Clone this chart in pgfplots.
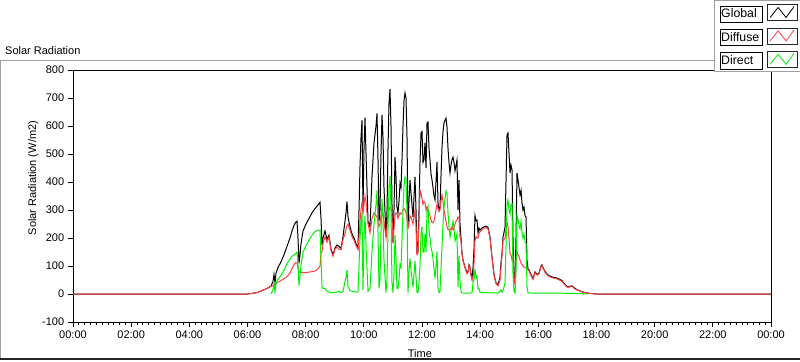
\documentclass[border=0pt]{standalone}
\usepackage{fontspec}
\setmainfont{Liberation Sans}
\usepackage{pgfplots}
\usepackage{pgfplotstable}
\pgfplotsset{compat=1.18}

\definecolor{lvred}{RGB}{255,64,64}
\definecolor{lvgreen}{RGB}{0,240,0}
\definecolor{framegray}{RGB}{160,160,160}

\newcommand{\lgtext}[1]{{\setlength{\fboxsep}{0pt}\setlength{\fboxrule}{0.8bp}\framebox[43bp][l]{\rule[-4bp]{0pt}{15.5bp}\hspace{1.5bp}#1}}}

\pgfplotstableread{
t G D B
0.000 0 0 nan
5.983 0 0 nan
6.155 2 2 nan
6.361 6 6 nan
6.567 15 15 nan
6.705 22 22 nan
6.808 28 27 1
6.877 45 30 15
6.911 70 32 38
6.946 40 33 7
6.980 75 35 40
7.049 95 42 53
7.152 115 48 67
7.255 140 55 85
7.358 170 62 108
7.461 200 75 125
7.530 225 90 135
7.599 245 105 140
7.668 258 112 146
7.702 260 110 150
7.736 200 95 105
7.771 110 80 30
7.805 140 78 62
7.840 180 77 103
7.908 225 76 149
8.011 250 77 173
8.115 270 78 192
8.218 290 80 210
8.321 305 82 223
8.424 318 90 228
8.493 328 100 228
8.527 270 150 120
8.562 175 150 25
8.596 200 180 20
8.665 225 205 20
8.734 195 185 10
8.802 210 203 7
8.871 160 155 5
8.940 140 135 5
9.009 165 160 5
9.077 175 168 7
9.146 170 160 10
9.215 163 158 5
9.284 205 195 10
9.352 260 215 45
9.387 290 230 60
9.421 330 244 86
9.456 275 250 25
9.524 240 228 12
9.593 215 205 10
9.662 200 192 8
9.731 180 173 7
9.799 165 158 7
9.834 300 200 100
9.868 455 260 195
9.903 560 300 260
9.937 620 330 290
9.971 300 285 15
10.006 520 320 200
10.040 630 350 280
10.075 500 330 170
10.143 260 250 10
10.212 240 218 22
10.281 420 270 150
10.350 540 290 250
10.418 600 280 320
10.453 645 275 370
10.487 480 260 220
10.522 260 240 20
10.556 300 250 50
10.590 500 280 220
10.625 640 300 340
10.659 560 290 270
10.693 380 260 120
10.762 205 200 5
10.797 300 240 60
10.831 520 290 230
10.865 680 300 380
10.900 732 310 422
10.934 600 300 300
10.968 320 280 40
11.003 185 180 5
11.037 300 230 70
11.072 490 280 210
11.106 420 290 130
11.140 310 289 21
11.175 290 270 20
11.209 330 280 50
11.244 395 290 105
11.278 380 285 95
11.312 480 290 190
11.347 600 300 300
11.381 690 305 385
11.415 718 300 418
11.450 700 290 410
11.484 560 270 290
11.519 240 235 5
11.553 330 250 80
11.587 407 280 127
11.622 360 275 85
11.691 275 250 25
11.759 418 300 118
11.794 300 240 60
11.828 146 140 6
11.862 150 145 5
11.897 300 260 40
11.931 470 371 99
11.966 575 360 215
12.000 580 340 240
12.034 470 320 150
12.069 480 330 150
12.103 540 325 215
12.138 450 300 150
12.172 610 310 300
12.206 614 300 314
12.241 520 290 230
12.275 479 280 199
12.309 430 265 165
12.344 407 255 152
12.378 380 254 126
12.413 350 260 90
12.447 336 280 56
12.481 400 300 100
12.516 471 320 151
12.550 325 305 20
12.585 300 295 5
12.619 310 300 10
12.653 420 330 90
12.688 525 354 171
12.722 580 330 250
12.756 610 300 310
12.791 621 280 341
12.825 628 260 368
12.860 596 240 356
12.894 520 230 290
12.928 470 230 240
12.963 432 229 203
12.997 460 235 225
13.032 480 240 240
13.066 489 229 260
13.100 470 235 235
13.135 440 250 190
13.169 460 260 200
13.203 479 264 215
13.238 300 275 25
13.272 407 270 137
13.307 250 204 46
13.341 200 190 10
13.375 146 143 3
13.410 121 118 3
13.479 96 93 3
13.547 75 72 3
13.582 80 77 3
13.616 104 100 4
13.650 96 93 3
13.685 70 66 4
13.719 55 50 5
13.754 95 55 40
13.788 160 110 50
13.822 280 190 90
13.857 262 205 57
13.891 264 200 64
13.926 218 200 18
13.960 235 215 20
13.994 228 222 6
14.063 236 230 6
14.132 240 235 5
14.201 242 237 5
14.269 238 233 5
14.338 204 200 4
14.407 132 128 4
14.476 70 66 4
14.544 40 37 3
14.613 32 29 3
14.682 60 50 10
14.716 110 95 15
14.751 146 140 6
14.785 204 190 14
14.820 220 195 25
14.854 240 200 40
14.888 400 230 170
14.923 568 254 314
14.957 575 240 335
14.991 504 200 304
15.026 432 146 286
15.060 460 140 320
15.095 443 121 322
15.129 200 130 70
15.163 60 50 10
15.198 39 35 4
15.232 200 120 80
15.266 432 150 282
15.301 407 140 267
15.335 380 135 245
15.370 354 121 233
15.404 370 110 260
15.438 325 105 220
15.473 300 100 200
15.507 310 96 214
15.542 280 94 186
15.576 275 93 182
15.610 121 93 28
15.645 90 86 4
15.679 86 82 4
15.748 70 66 4
15.817 55 52 3
15.885 79 76 3
15.954 70 67 3
16.023 75 72 3
16.092 100 97 3
16.126 104 101 3
16.160 95 92 3
16.229 80 77 3
16.332 68 65 3
16.470 61 58 3
16.642 57 54 3
16.814 48 45 3
16.883 38 35 3
16.951 30 28 2
17.020 25 23 2
17.089 28 26 2
17.158 29 27 2
17.261 20 18 2
17.364 14 13 1
17.536 7 6 1
17.708 3 3 0
17.880 1 1 nan
18.017 0 0 nan
24.000 0 0 nan
}\solar

\begin{document}
\fontsize{11bp}{13bp}\selectfont
\begin{tikzpicture}[x=1bp,y=1bp]
\path[use as bounding box] (0,0) rectangle (800,361);
\draw[framegray, line width=1bp] (0.5,2) -- (0.5,300.5) -- (717,300.5);
\draw[black!85, line width=2bp] (0,2) -- (800,2);
\node[anchor=base west, inner sep=0pt] at (5,307) {Solar Radiation};
\begin{axis}[
  at={(73bp,39bp)}, anchor=south west,
  width=698bp, height=252bp, scale only axis,
  xmin=0, xmax=24, ymin=-100, ymax=800,
  xtick={0,2,...,24},
  xticklabels={00:00,02:00,04:00,06:00,08:00,10:00,12:00,14:00,16:00,18:00,20:00,22:00,00:00},
  minor x tick num=9,
  ytick={-100,0,...,800},
  yticklabels={-100,0,100,200,300,400,500,600,700,800},
  tick align=outside,
  xtick pos=bottom, ytick pos=left,
  major tick length=5bp, minor tick length=3bp,
  every tick/.style={black, line width=0.8bp},
  axis line style={black, line width=1bp},
  xlabel={Time}, ylabel={Solar Radiation (W/m2)},
  xlabel style={at={(axis description cs:0.497,-0.127)}, anchor=center},
  ylabel style={at={(axis description cs:-0.057,0.571)}, anchor=center},
  unbounded coords=jump,
  legend plot pos=right,
  legend cell align=left,
  legend style={at={(1,1)}, anchor=north east, xshift=30bp, yshift=70bp,
    draw=framegray, line width=1bp, fill=white, inner sep=3bp,
    row sep=5.5bp, column sep=2bp,
    font=\fontsize{12.3bp}{14bp}\selectfont},
  legend image code/.code={
    \draw[draw=black!85, line width=0.8bp, fill=white, solid] (0bp,-8bp) rectangle (30bp,8bp);
    \draw[#1, line width=0.8bp] (3bp,-5bp) -- (11bp,5bp) -- (19bp,-5bp) -- (27bp,6bp);
  },
]
\addplot[black, line width=1bp] table[x=t, y=G] {\solar};
\addlegendentry{\lgtext{Global}}
\addplot[lvred, line width=1bp] table[x=t, y=D] {\solar};
\addlegendentry{\lgtext{Diffuse}}
\addplot[lvgreen, line width=1bp] table[x=t, y=B] {\solar};
\addlegendentry{\lgtext{Direct}}
\end{axis}
\end{tikzpicture}
\end{document}
